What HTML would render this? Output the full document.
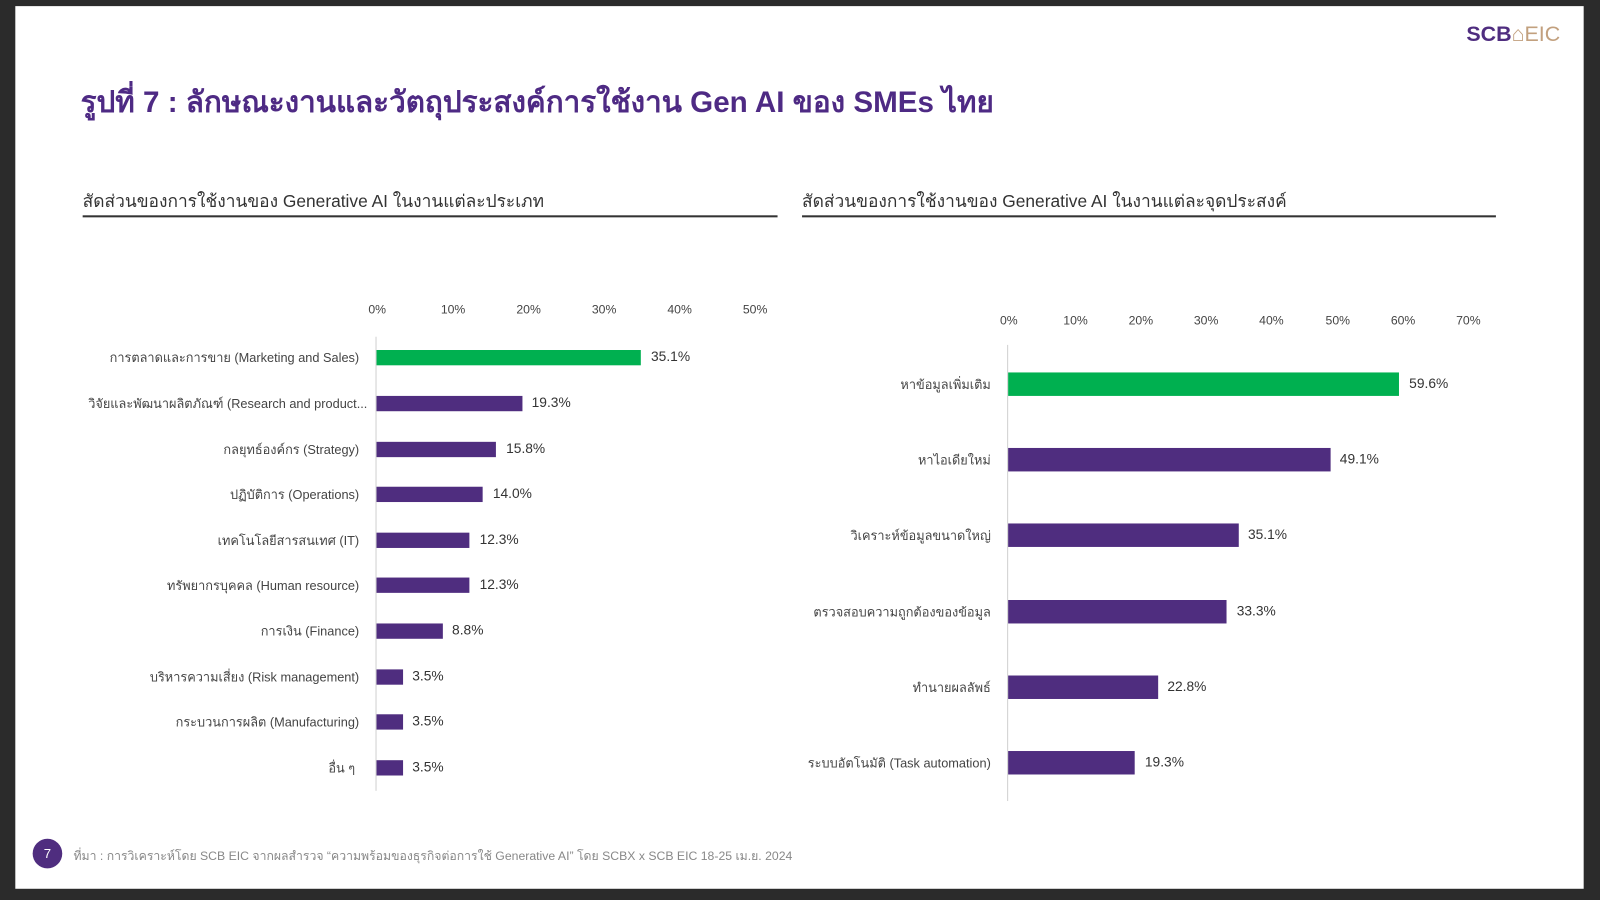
<!DOCTYPE html>
<html><head><meta charset="utf-8"><style>
html,body{margin:0;padding:0;background:#2b2b2b;width:1600px;height:900px;overflow:hidden}
#s{position:absolute;left:0;top:0;width:1568px;height:882px;transform:scale(1.020408);transform-origin:0 0;font-family:"Liberation Sans","DejaVu Sans",sans-serif}
.w{position:absolute;left:15px;top:6px;width:1537px;height:865px;background:#fff}
.a{position:absolute;white-space:nowrap}
.t{font-size:12px;color:#444}
.l{font-size:12.5px;color:#444;text-align:right}
.v{font-size:13.5px;color:#333}
.b{position:absolute;background:#4f2d7f}
</style></head><body><div id="s">
<div class="w"></div>
<div class="a" style="left:1437px;top:22px;font-size:21px;font-weight:bold;color:#4f2d7f">SCB<span style="color:#c2a07e;font-weight:normal">⌂EIC</span></div>
<div class="a" style="left:79px;top:77px;font-size:29px;font-weight:bold;color:#4e2a84">รูปที่ 7 : ลักษณะงานและวัตถุประสงค์การใช้งาน Gen AI ของ SMEs ไทย</div>
<div class="a" style="left:81px;top:184px;font-size:17px;color:#333">สัดส่วนของการใช้งานของ Generative AI ในงานแต่ละประเภท</div>
<div class="a" style="left:81px;top:211px;width:681px;height:2px;background:#333"></div>
<div class="a" style="left:786px;top:184px;font-size:17px;color:#333">สัดส่วนของการใช้งานของ Generative AI ในงานแต่ละจุดประสงค์</div>
<div class="a" style="left:786px;top:211px;width:680px;height:2px;background:#333"></div>

<!-- left chart -->
<div class="a" style="left:368px;top:330px;width:1px;height:445px;background:#d0d0d0"></div>
<div class="a t" style="left:361px;top:296px">0%</div>
<div class="a t" style="left:432px;top:296px">10%</div>
<div class="a t" style="left:506px;top:296px">20%</div>
<div class="a t" style="left:580px;top:296px">30%</div>
<div class="a t" style="left:654px;top:296px">40%</div>
<div class="a t" style="left:728px;top:296px">50%</div>

<div class="a l" style="right:1216px;top:341px">การตลาดและการขาย (Marketing and Sales)</div>
<div class="b" style="left:369px;top:343px;width:259px;height:15px;background:#00b050"></div>
<div class="a v" style="left:638px;top:342px">35.1%</div>

<div class="a l" style="right:1208px;top:386px">วิจัยและพัฒนาผลิตภัณฑ์ (Research and product...</div>
<div class="b" style="left:369px;top:388px;width:143px;height:15px"></div>
<div class="a v" style="left:521px;top:387px">19.3%</div>

<div class="a l" style="right:1216px;top:431px">กลยุทธ์องค์กร (Strategy)</div>
<div class="b" style="left:369px;top:433px;width:117px;height:15px"></div>
<div class="a v" style="left:496px;top:432px">15.8%</div>

<div class="a l" style="right:1216px;top:475px">ปฏิบัติการ (Operations)</div>
<div class="b" style="left:369px;top:477px;width:104px;height:15px"></div>
<div class="a v" style="left:483px;top:476px">14.0%</div>

<div class="a l" style="right:1216px;top:520px">เทคโนโลยีสารสนเทศ (IT)</div>
<div class="b" style="left:369px;top:522px;width:91px;height:15px"></div>
<div class="a v" style="left:470px;top:521px">12.3%</div>

<div class="a l" style="right:1216px;top:564px">ทรัพยากรบุคคล (Human resource)</div>
<div class="b" style="left:369px;top:566px;width:91px;height:15px"></div>
<div class="a v" style="left:470px;top:565px">12.3%</div>

<div class="a l" style="right:1216px;top:609px">การเงิน (Finance)</div>
<div class="b" style="left:369px;top:611px;width:65px;height:15px"></div>
<div class="a v" style="left:443px;top:610px">8.8%</div>

<div class="a l" style="right:1216px;top:654px">บริหารความเสี่ยง (Risk management)</div>
<div class="b" style="left:369px;top:656px;width:26px;height:15px"></div>
<div class="a v" style="left:404px;top:655px">3.5%</div>

<div class="a l" style="right:1216px;top:698px">กระบวนการผลิต (Manufacturing)</div>
<div class="b" style="left:369px;top:700px;width:26px;height:15px"></div>
<div class="a v" style="left:404px;top:699px">3.5%</div>

<div class="a l" style="right:1220px;top:743px">อื่น ๆ</div>
<div class="b" style="left:369px;top:745px;width:26px;height:15px"></div>
<div class="a v" style="left:404px;top:744px">3.5%</div>

<!-- right chart -->
<div class="a" style="left:987px;top:338px;width:1px;height:447px;background:#d0d0d0"></div>
<div class="a t" style="left:980px;top:307px">0%</div>
<div class="a t" style="left:1042px;top:307px">10%</div>
<div class="a t" style="left:1106px;top:307px">20%</div>
<div class="a t" style="left:1170px;top:307px">30%</div>
<div class="a t" style="left:1234px;top:307px">40%</div>
<div class="a t" style="left:1299px;top:307px">50%</div>
<div class="a t" style="left:1363px;top:307px">60%</div>
<div class="a t" style="left:1427px;top:307px">70%</div>

<div class="a l" style="right:597px;top:367px">หาข้อมูลเพิ่มเติม</div>
<div class="b" style="left:988px;top:365px;width:383px;height:23px;background:#00b050"></div>
<div class="a v" style="left:1381px;top:368px">59.6%</div>

<div class="a l" style="right:597px;top:441px">หาไอเดียใหม่</div>
<div class="b" style="left:988px;top:439px;width:316px;height:23px"></div>
<div class="a v" style="left:1313px;top:442px">49.1%</div>

<div class="a l" style="right:597px;top:515px">วิเคราะห์ข้อมูลขนาดใหญ่</div>
<div class="b" style="left:988px;top:513px;width:226px;height:23px"></div>
<div class="a v" style="left:1223px;top:516px">35.1%</div>

<div class="a l" style="right:597px;top:590px">ตรวจสอบความถูกต้องของข้อมูล</div>
<div class="b" style="left:988px;top:588px;width:214px;height:23px"></div>
<div class="a v" style="left:1212px;top:591px">33.3%</div>

<div class="a l" style="right:597px;top:664px">ทำนายผลลัพธ์</div>
<div class="b" style="left:988px;top:662px;width:147px;height:23px"></div>
<div class="a v" style="left:1144px;top:665px">22.8%</div>

<div class="a l" style="right:597px;top:738px">ระบบอัตโนมัติ (Task automation)</div>
<div class="b" style="left:988px;top:736px;width:124px;height:23px"></div>
<div class="a v" style="left:1122px;top:739px">19.3%</div>

<!-- footer -->
<div class="a" style="left:32px;top:822px;width:29px;height:29px;border-radius:50%;background:#4f2d7f;color:#fff;font-size:13px;text-align:center;line-height:29px">7</div>
<div class="a" style="left:72px;top:830px;font-size:12px;color:#888">ที่มา : การวิเคราะห์โดย SCB EIC จากผลสำรวจ “ความพร้อมของธุรกิจต่อการใช้ Generative AI” โดย SCBX x SCB EIC 18-25 เม.ย. 2024</div>
</div></body></html>
